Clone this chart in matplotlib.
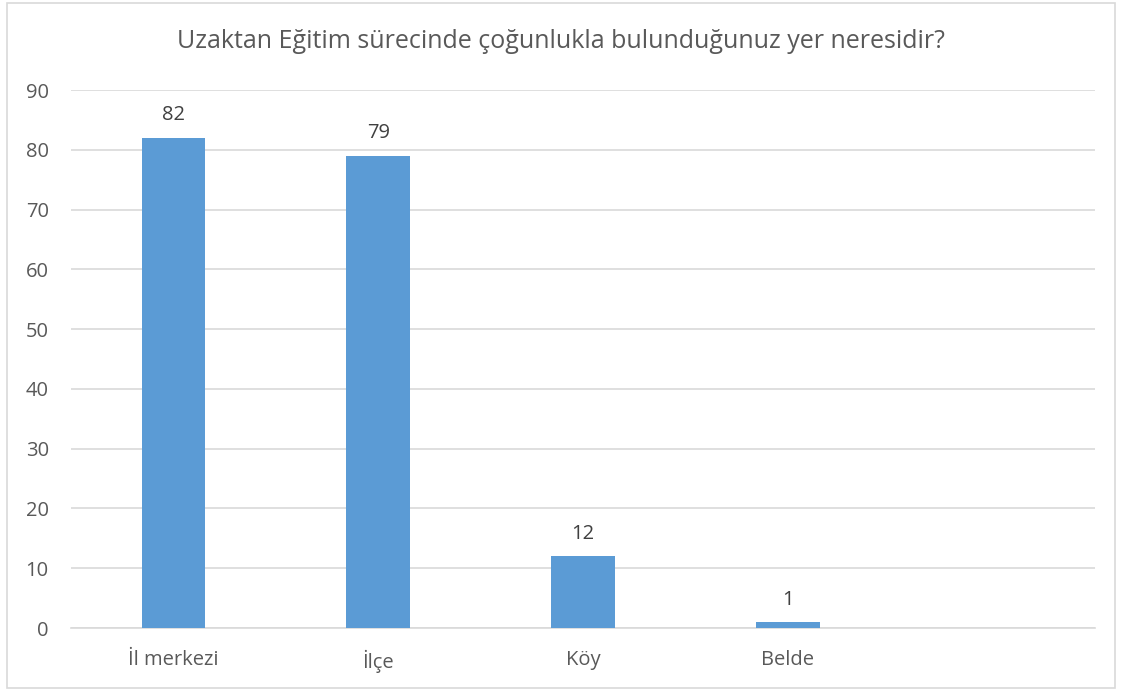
import matplotlib
matplotlib.use("Agg")
import matplotlib.pyplot as plt
from matplotlib.patches import Rectangle

categories = ["İl merkezi", "İlçe", "Köy", "Belde", ""]
values = [82, 79, 12, 1, None]
yticks = [0, 10, 20, 30, 40, 50, 60, 70, 80, 90]
title = "Uzaktan Eğitim sürecinde çoğunlukla bulunduğunuz yer neresidir?"

plt.rcParams['font.family'] = ['Open Sans', 'DejaVu Sans']
txt = "#595959"

fig = plt.figure(figsize=(11.22, 6.91), dpi=100)
fig.patches.append(Rectangle((7/1122, 3/691), (1115-7)/1122, (688-3)/691,
                             transform=fig.transFigure, fill=False,
                             edgecolor="#D9D9D9", linewidth=1.2))
ax = fig.add_axes([71/1122, 1 - 628/691, (1095-71)/1122, (628-90)/691])

xs = list(range(len(categories)))
bx = [x for x, v in zip(xs, values) if v is not None]
bv = [v for v in values if v is not None]
bars = ax.bar(bx, bv, width=0.31, color="#5B9BD5", zorder=3)
for x, v in zip(bx, bv):
    ax.annotate(str(v), (x, v), xytext=(0, 9), textcoords="offset points",
                ha="center", va="bottom", fontsize=14.5, color="#404040")

ax.set_xlim(-0.5, len(categories) - 0.5)
ax.set_ylim(0, 90)
ax.set_yticks(yticks)
ax.set_yticklabels([str(t) for t in yticks], fontsize=14.5, color=txt)
ax.set_xticks(xs)
ax.set_xticklabels(categories, fontsize=14.5, color=txt)
ax.tick_params(axis="both", length=0)
ax.tick_params(axis="x", pad=16)
ax.tick_params(axis="y", pad=16)
ax.yaxis.grid(True, color="#D9D9D9", linewidth=1.2, zorder=0)
for s in ["top", "right", "left"]:
    ax.spines[s].set_visible(False)
ax.spines["bottom"].set_color("#D9D9D9")
ax.spines["bottom"].set_linewidth(1.2)
ax.set_facecolor("none")

fig.text(0.5, 1 - 42/691, title, ha="center", va="center", fontsize=18, color=txt)

fig.savefig("out.png", dpi=100)
